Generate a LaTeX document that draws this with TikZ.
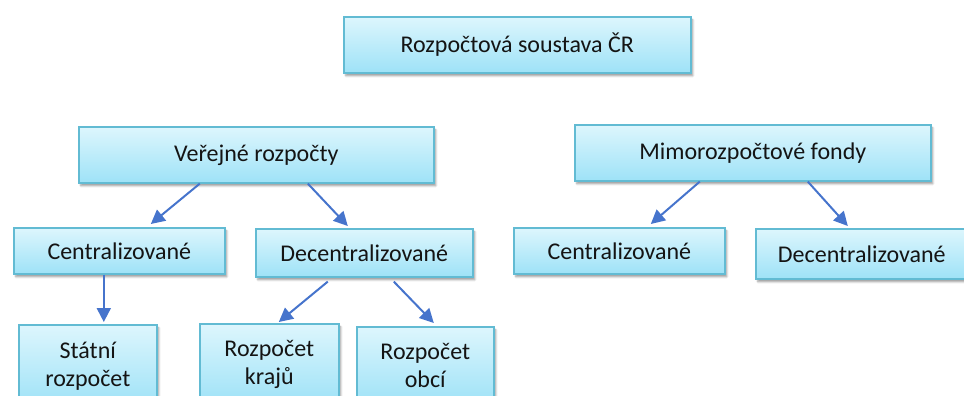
\documentclass[tikz,border=0pt]{standalone}
\usepackage{fontspec}
\setmainfont{Carlito}
\usetikzlibrary{arrows.meta,shadows.blur}
\definecolor{boxtop}{HTML}{DDF6FD}
\definecolor{boxbot}{HTML}{9EE2F7}
\definecolor{boxline}{HTML}{62BBD3}
\definecolor{arrowc}{HTML}{4674CC}
\definecolor{txt}{HTML}{141414}
\tikzset{
  box/.style={draw=boxline, line width=1.6pt, top color=boxtop, bottom color=boxbot,
    anchor=north west, inner sep=0pt, align=center, text=txt,
    font=\fontsize{24}{28}\selectfont,
    blur shadow={shadow xshift=2pt, shadow yshift=-3pt, shadow blur steps=6, shadow opacity=40}},
  conn/.style={draw=arrowc, line width=2pt, -{Triangle[length=14pt,width=14pt]}}
}
\begin{document}
\begin{tikzpicture}[x=1pt,y=-1pt]
\useasboundingbox (0,0) rectangle (964,396);
\clip (0,0) rectangle (964,396);
\node[box, minimum width=347pt, minimum height=56pt] (top) at (343,16) {Rozpočtová soustava ČR};
\node[box, minimum width=355pt, minimum height=56pt] (vr) at (78,126) {Veřejné rozpočty};
\node[box, minimum width=356pt, minimum height=56pt] (mf) at (574,124) {Mimorozpočtové fondy};
\node[box, minimum width=211pt, minimum height=46pt] (c1) at (13,227) {Centralizované};
\node[box, minimum width=217pt, minimum height=48pt] (d1) at (255,228) {Decentralizované};
\node[box, minimum width=211pt, minimum height=46pt] (c2) at (513,227) {Centralizované};
\node[box, minimum width=220pt, minimum height=50pt, text width=220pt] (d2) at (755,228) {\hspace*{-8pt}Decentralizované};
\node[box, minimum width=138pt, minimum height=82pt] (s) at (18,324) {Státní\\rozpočet};
\node[box, minimum width=139pt, minimum height=81pt] (k) at (199,323) {Rozpočet\\krajů};
\node[box, minimum width=137pt, minimum height=78pt] (o) at (356,326) {Rozpočet\\obcí};

\draw[conn] ([xshift=-56.5pt]vr.south) -- ([xshift=31.5pt,yshift=3pt]c1.north);
\draw[conn] ([xshift=51.5pt]vr.south) -- ([xshift=-16.5pt,yshift=2pt]d1.north);
\draw[conn] ([xshift=-15.5pt]c1.south) -- ([xshift=16pt,yshift=2pt]s.north);
\draw[conn] ([xshift=-36.5pt,yshift=-4pt]d1.south) -- ([xshift=9.5pt,yshift=1pt]k.north);
\draw[conn] ([xshift=29.5pt,yshift=-4pt]d1.south) -- ([xshift=8.5pt,yshift=3pt]o.north);
\draw[conn] ([xshift=-53pt]mf.south) -- ([xshift=31.5pt,yshift=3pt]c2.north);
\draw[conn] ([xshift=55pt]mf.south) -- ([xshift=-18pt,yshift=2pt]d2.north);
\end{tikzpicture}
\end{document}
